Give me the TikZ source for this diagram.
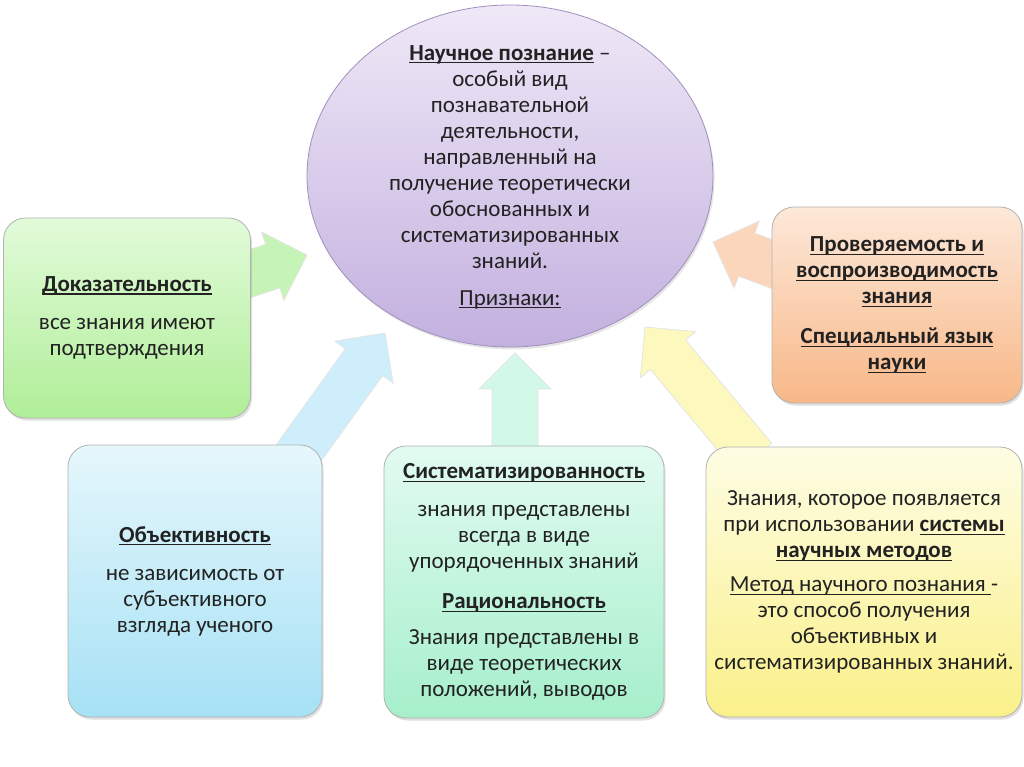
\documentclass[tikz,border=0pt]{standalone}
\usepackage{fontspec}
\setmainfont{Carlito}
\newcommand\uln[1]{\leavevmode\setbox0\hbox{#1}\rlap{\rule[-3pt]{\wd0}{1.1pt}}\box0}
\usetikzlibrary{calc,shadows,shapes.geometric}
\pgfdeclarelayer{background}
\pgfsetlayers{background,main}
\definecolor{txt}{HTML}{222222}
\definecolor{purTop}{HTML}{EFE8F7}
\definecolor{purBot}{HTML}{C3B0DF}
\definecolor{purLine}{HTML}{9E90BC}
\definecolor{grTop}{HTML}{E2FBDA}
\definecolor{grBot}{HTML}{B0EE98}
\definecolor{orTop}{HTML}{FDE8D9}
\definecolor{orBot}{HTML}{F8B888}
\definecolor{blTop}{HTML}{E6F7FC}
\definecolor{blBot}{HTML}{A6E1F5}
\definecolor{mnTop}{HTML}{E2FBF1}
\definecolor{mnBot}{HTML}{A6EFCB}
\definecolor{ylTop}{HTML}{FEFDE4}
\definecolor{ylBot}{HTML}{FAF08A}
\definecolor{grArr}{HTML}{C6F4B6}
\definecolor{blArr}{HTML}{CDEEFA}
\definecolor{mnArr}{HTML}{D2F8E8}
\definecolor{ylArr}{HTML}{FCF8BE}
\definecolor{orArr}{HTML}{FBD6BA}
\newcommand\blockarrow[3]{%
  \path let \p1=(#1), \p2=(#2),
    \n1={atan2(\y2-\y1,\x2-\x1)}, \n2={veclen(\x2-\x1,\y2-\y1)} in
    \pgfextra{\pgfmathsetmacro\tmpang{\n1}\global\let\barang\tmpang
      \pgfmathsetlengthmacro\tmplen{\n2}\global\let\barlen\tmplen
      \pgfmathsetlengthmacro\tmpbase{\n2-36pt}\global\let\barbase\tmpbase};
  \begin{scope}[shift={(#1)}, rotate=\barang]
    \filldraw[#3] (0pt,-23pt) -- (\barbase,-23pt) -- (\barbase,-36pt)
      -- (\barlen,0pt) -- (\barbase,36pt) -- (\barbase,23pt) -- (0pt,23pt) -- cycle;
  \end{scope}}
\tikzset{
  card/.style={rounded corners=22pt, draw=#1, line width=0.8pt, align=center,
    inner sep=0pt, drop shadow={opacity=0.25, shadow xshift=1.5pt, shadow yshift=-2.5pt}},
  arrowbody/.style={fill=#1, draw=black!10, line width=0.8pt},
  bodytext/.style={text=txt, font=\fontsize{23}{26}\selectfont, align=center, inner sep=0pt}
}
\begin{document}
\begin{tikzpicture}[x=1pt,y=-1pt]
\useasboundingbox (0,0) rectangle (1024,767);
% arrow end points
\coordinate (gT) at (212,286); \coordinate (gH) at (307,255);
\coordinate (bT) at (295,458); \coordinate (bH) at (385,333);
\coordinate (mT) at (515,460); \coordinate (mH) at (515,353);
\coordinate (yT) at (754,458); \coordinate (yH) at (645,327);
\coordinate (oT) at (825,284); \coordinate (oH) at (713,242);
\begin{pgfonlayer}{background}
\blockarrow{gT}{gH}{arrowbody=grArr}
\blockarrow{bT}{bH}{arrowbody=blArr}
\blockarrow{mT}{mH}{arrowbody=mnArr}
\blockarrow{yT}{yH}{arrowbody=ylArr}
\blockarrow{oT}{oH}{arrowbody=orArr}
\end{pgfonlayer}
% central ellipse
\node[ellipse, minimum width=406pt, minimum height=342pt, inner sep=0pt,
  top color=purTop, bottom color=purBot, draw=purLine, line width=0.8pt,
  drop shadow={opacity=0.2, shadow xshift=1.5pt, shadow yshift=-2.5pt}] (ell) at (510,176) {};
\node[bodytext] (elltext) at (510,177) {\uln{\textbf{Научное познание}}\ –\\ особый вид\\ познавательной\\ деятельности,\\ направленный на\\ получение теоретически\\ обоснованных и\\ систематизированных\\ знаний.\\[11pt] \uln{Признаки:}};
% boxes
\node[card=black!30, top color=grTop, bottom color=grBot, minimum width=247pt, minimum height=200pt, bodytext] (proof) at (127,318)
 {\uln{\textbf{Доказательность}}\\[12pt] все знания имеют\\ подтверждения};
\node[card=black!30, top color=orTop, bottom color=orBot, minimum width=250pt, minimum height=196pt, bodytext] (verif) at (897,305)
 {\uln{\textbf{Проверяемость и}}\\ \uln{\textbf{воспроизводимость}}\\ \uln{\textbf{знания}}\\[14pt] \uln{\textbf{Специальный язык}}\\ \uln{\textbf{науки}}};
\node[card=black!30, top color=blTop, bottom color=blBot, minimum width=254pt, minimum height=272pt, bodytext] (objec) at (195,581)
 {\uln{\textbf{Объективность}}\\[12pt] не зависимость от\\ субъективного\\ взгляда ученого};
\node[card=black!30, top color=mnTop, bottom color=mnBot, minimum width=280pt, minimum height=272pt, bodytext] (system) at (524,582)
 {\uln{\textbf{Систематизированность}}\\[12pt] знания представлены\\ всегда в виде\\ упорядоченных знаний\\[14pt] \uln{\textbf{Рациональность}}\\[10pt] Знания представлены в\\ виде теоретических\\ положений, выводов};
\node[card=black!30, top color=ylTop, bottom color=ylBot, minimum width=316pt, minimum height=270pt, bodytext] (method) at (864,582)
 {Знания, которое появляется\\ при использовании \uln{\textbf{системы}}\\ \uln{\textbf{научных методов}}\\[8pt] \uln{Метод научного познания\ }-\\ это способ получения\\ объективных и\\ систематизированных знаний.};
\end{tikzpicture}
\end{document}
